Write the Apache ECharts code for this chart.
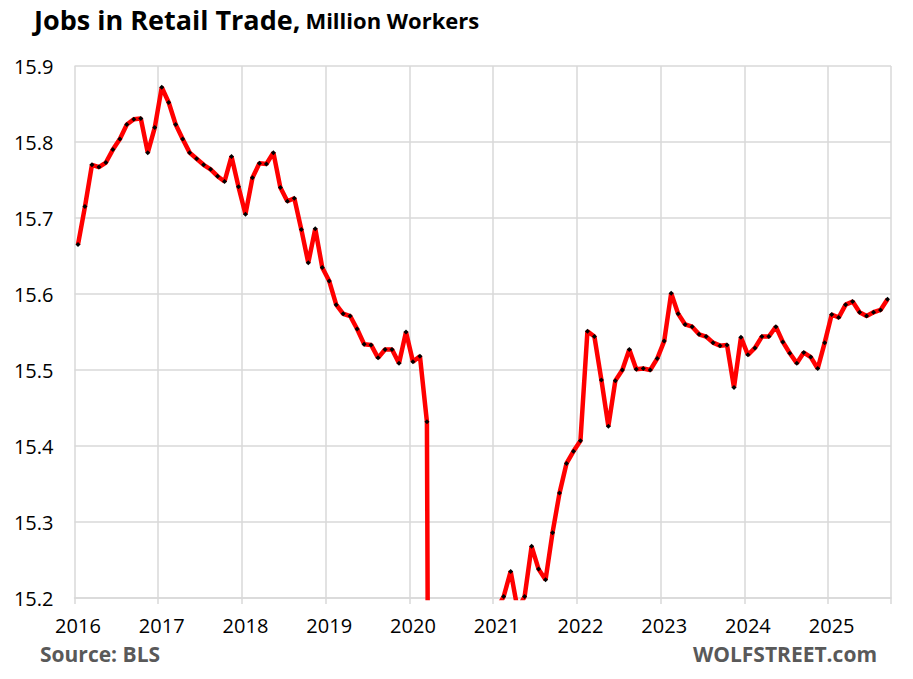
<!DOCTYPE html>
<html>
<head>
<meta charset="utf-8">
<script src="https://cdn.jsdelivr.net/npm/echarts@6/dist/echarts.min.js"></script>
<style>
html,body{margin:0;padding:0;background:#fff;}
#chart{width:913px;height:679px;}
</style>
</head>
<body>
<div id="chart"></div>
<script>
// Tick labels (years)
const years = ['2016','2017','2018','2019','2020','2021','2022','2023','2024','2025'];
// Monthly values, million workers
const v2016 = [15.665,15.715,15.770,15.767,15.773,15.790,15.804,15.823,15.830,15.831,15.786,15.819];
const v2017 = [15.872,15.852,15.823,15.804,15.786,15.778,15.770,15.764,15.755,15.748,15.781,15.741];
const v2018 = [15.705,15.753,15.772,15.771,15.786,15.740,15.722,15.726,15.685,15.641,15.686,15.635];
const v2019 = [15.617,15.586,15.574,15.571,15.554,15.534,15.533,15.516,15.527,15.527,15.509,15.550];
const v2020 = [15.511,15.518,15.432,13.15,13.95,14.75,14.95,15.03,15.08,15.11,15.13,15.15];
const v2021 = [15.185,15.202,15.235,15.185,15.202,15.268,15.238,15.224,15.286,15.338,15.377,15.393];
const v2022 = [15.407,15.551,15.544,15.487,15.426,15.486,15.500,15.527,15.501,15.502,15.500,15.515];
const v2023 = [15.538,15.601,15.574,15.560,15.557,15.547,15.544,15.536,15.532,15.533,15.477,15.543];
const v2024 = [15.520,15.529,15.544,15.544,15.557,15.537,15.522,15.509,15.523,15.517,15.502,15.536];
const v2025 = [15.573,15.569,15.586,15.590,15.576,15.571,15.576,15.579,15.593];

const values = [].concat(v2016,v2017,v2018,v2019,v2020,v2021,v2022,v2023,v2024,v2025);
const categories = values.map((_, i) => years[Math.floor(i/12)] + '-' + String(i%12+1).padStart(2,'0'));

const gridColor = '#d9d9d9';
const chart = echarts.init(document.getElementById('chart'), null, {renderer:'svg'});
chart.setOption({
  animation:false,
  backgroundColor:'#fff',
  title:[
    {
      text:'{a|Jobs in Retail Trade,} {b|Million Workers}',
      left:29, top:1,
      textStyle:{
        rich:{
          a:{fontFamily:'Open Sans',fontWeight:'bold',fontSize:27,color:'#000'},
          b:{fontFamily:'Open Sans',fontWeight:'bold',fontSize:22,color:'#000'}
        }
      }
    },
    {
      text:'Source: BLS', left:35, top:638,
      textStyle:{fontFamily:'Open Sans',fontWeight:'bold',fontSize:21,color:'#595959'}
    },
    {
      text:'WOLFSTREET.com', right:31, top:638,
      textStyle:{fontFamily:'Open Sans',fontWeight:'bold',fontSize:21,color:'#595959'}
    }
  ],
  grid:{left:74.5, right:22, top:66, bottom:81},
  xAxis:{
    type:'category',
    data:categories,
    boundaryGap:true,
    axisLine:{show:true, lineStyle:{color:gridColor, width:1.5}},
    axisTick:{show:true, length:6, interval:(i)=>i%12===0, lineStyle:{color:gridColor, width:1.5}},
    splitLine:{show:true, interval:(i)=>i%12===0, lineStyle:{color:gridColor, width:1.5}},
    axisLabel:{
      interval:(i)=>i%12===0,
      formatter:(val, i)=> years[Math.floor(i/12)],
      fontFamily:'Open Sans', fontSize:20, color:'#000', margin:17
    }
  },
  yAxis:{
    type:'value',
    min:15.2, max:15.9, interval:0.1,
    axisLine:{show:false},
    axisTick:{show:false},
    splitLine:{show:true, lineStyle:{color:gridColor, width:1.5}},
    axisLabel:{
      formatter:(v)=>v.toFixed(1),
      fontFamily:'Open Sans', fontSize:20, color:'#000', margin:21
    }
  },
  series:[{
    type:'line',
    data:values,
    clip:true,
    showAllSymbol:true,
    symbol:'diamond',
    symbolSize:5,
    itemStyle:{color:'#000'},
    lineStyle:{color:'#ff0000', width:4.5},
    z:3
  }]
});
</script>
</body>
</html>
